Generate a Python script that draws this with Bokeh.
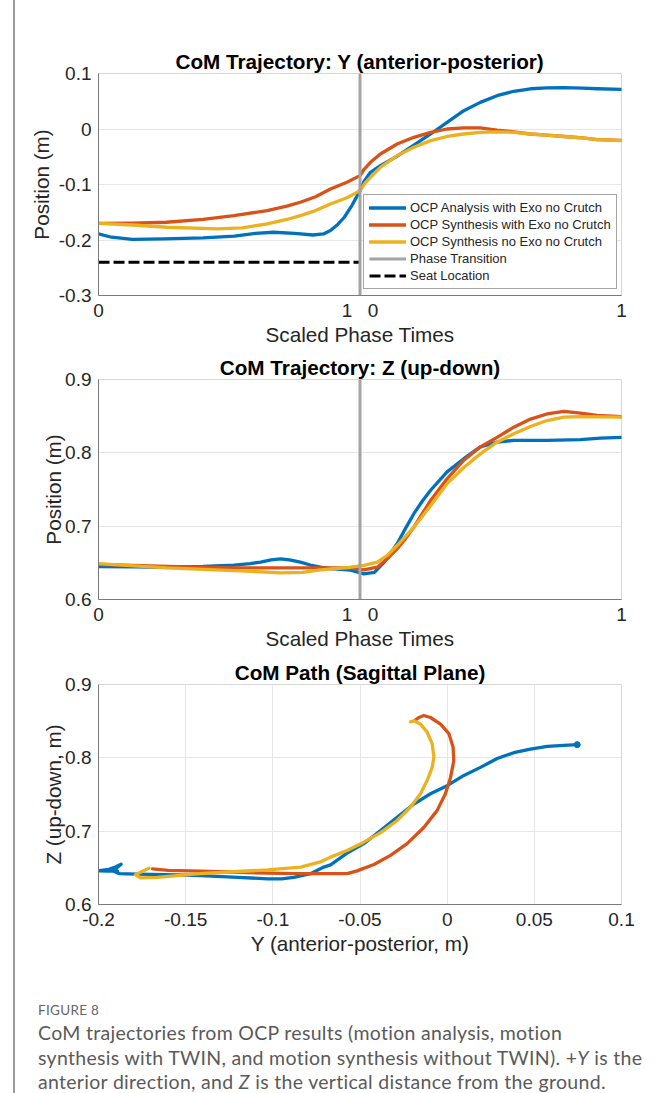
from bokeh.plotting import figure
from bokeh.models import FixedTicker, Legend, LegendItem, Div, Spacer, Range1d
from bokeh.layouts import column, row
from bokeh.embed import file_html
from bokeh.resources import INLINE

# ---------------- data ----------------
# combined scaled phase time: phase 1 -> [0,1], phase 2 -> [1,2]
PHASE_T = 1.0
SEAT_Y = -0.24
SEAT_T = [0.0, 1.0]

T_Y_BLUE = [0, 0.05, 0.13, 0.25, 0.4, 0.52, 0.6, 0.67, 0.75, 0.82, 0.86, 0.887, 0.915, 0.94, 0.97, 1.0,
            1.015, 1.04, 1.078, 1.142, 1.206, 1.27, 1.333, 1.397, 1.46, 1.524, 1.588, 1.652, 1.715, 1.78,
            1.85, 1.907, 2.0]
Y_BLUE = [-0.189, -0.195, -0.199, -0.198, -0.196, -0.193, -0.188, -0.186, -0.188, -0.191, -0.189, -0.183,
          -0.172, -0.159, -0.137, -0.111, -0.095, -0.078, -0.066, -0.049, -0.029, -0.009, 0.012, 0.033,
          0.048, 0.060, 0.068, 0.0725, 0.074, 0.0745, 0.0735, 0.0725, 0.0715]

T_Y_RED = [0, 0.13, 0.26, 0.4, 0.518, 0.645, 0.72, 0.772, 0.83, 0.887, 0.95, 1.0, 1.015, 1.04, 1.078,
           1.142, 1.206, 1.27, 1.333, 1.397, 1.46, 1.524, 1.588, 1.652, 1.715, 1.78, 1.85, 1.907, 2.0]
Y_RED = [-0.170, -0.1695, -0.168, -0.163, -0.156, -0.147, -0.139, -0.132, -0.122, -0.108, -0.096, -0.084,
         -0.073, -0.060, -0.045, -0.027, -0.015, -0.006, 0.0, 0.002, 0.002, -0.002, -0.005, -0.009, -0.011,
         -0.0135, -0.016, -0.019, -0.0205]

T_Y_YEL = [0, 0.13, 0.262, 0.454, 0.55, 0.645, 0.72, 0.772, 0.83, 0.887, 0.95, 1.0, 1.02, 1.04, 1.078,
           1.142, 1.206, 1.27, 1.333, 1.397, 1.46, 1.524, 1.588, 1.652, 1.715, 1.78, 1.85, 1.907, 2.0]
Y_YEL = [-0.170, -0.173, -0.177, -0.180, -0.178, -0.171, -0.163, -0.156, -0.147, -0.135, -0.124, -0.111,
         -0.097, -0.087, -0.069, -0.048, -0.033, -0.021, -0.0135, -0.009, -0.006, -0.005, -0.006, -0.009,
         -0.011, -0.0135, -0.016, -0.019, -0.021]

T_Z_BLUE = [0, 0.13, 0.262, 0.4, 0.518, 0.58, 0.62, 0.66, 0.696, 0.73, 0.772, 0.81, 0.849, 0.887, 0.964,
            1.015, 1.055, 1.093, 1.142, 1.174, 1.206, 1.238, 1.27, 1.333, 1.397, 1.46, 1.524, 1.588, 1.715,
            1.843, 1.92, 2.0]
Z_BLUE = [0.645, 0.6445, 0.644, 0.645, 0.647, 0.649, 0.651, 0.654, 0.6555, 0.654, 0.651, 0.647, 0.644,
          0.642, 0.640, 0.635, 0.637, 0.651, 0.676, 0.697, 0.717, 0.734, 0.749, 0.774, 0.792, 0.808, 0.8145,
          0.817, 0.817, 0.818, 0.820, 0.821]

T_Z_RED = [0, 0.262, 0.518, 0.849, 0.964, 1.015, 1.066, 1.104, 1.142, 1.174, 1.206, 1.238, 1.27, 1.333,
           1.397, 1.46, 1.524, 1.588, 1.652, 1.715, 1.78, 1.843, 1.907, 2.0]
Z_RED = [0.648, 0.645, 0.643, 0.643, 0.643, 0.6405, 0.644, 0.6555, 0.669, 0.683, 0.6986, 0.717, 0.735,
         0.7646, 0.790, 0.808, 0.821, 0.835, 0.846, 0.853, 0.8564, 0.854, 0.851, 0.8495]

T_Z_YEL = [0, 0.262, 0.518, 0.696, 0.78, 0.849, 0.964, 1.015, 1.066, 1.104, 1.142, 1.206, 1.27, 1.333,
           1.397, 1.46, 1.524, 1.588, 1.652, 1.715, 1.78, 1.843, 1.907, 2.0]
Z_YEL = [0.649, 0.643, 0.6395, 0.6364, 0.637, 0.6405, 0.644, 0.6464, 0.651, 0.660, 0.6736, 0.6986, 0.728,
         0.758, 0.780, 0.7986, 0.8145, 0.826, 0.836, 0.844, 0.8486, 0.8495, 0.849, 0.8486]

# sagittal-plane path (Y, Z)
PATH_Y_BLUE = [-0.189, -0.195, -0.1995, -0.1985, -0.194, -0.190, -0.187, -0.1895, -0.191, -0.188, -0.178,
               -0.170, -0.155, -0.1415, -0.12, -0.103, -0.095, -0.088, -0.0784, -0.0708, -0.0669, -0.0574,
               -0.0478, -0.0382, -0.0287, -0.0191, -0.0096, 0.0, 0.0096, 0.0191, 0.0287, 0.0382, 0.0478,
               0.0574, 0.0669, 0.0746]
PATH_Z_BLUE = [0.6455, 0.6455, 0.646, 0.6465, 0.648, 0.6515, 0.655, 0.650, 0.645, 0.642, 0.6415, 0.641,
               0.6405, 0.6395, 0.637, 0.635, 0.635, 0.637, 0.642, 0.651, 0.654, 0.670, 0.683, 0.701, 0.719,
               0.737, 0.751, 0.762, 0.776, 0.787, 0.799, 0.807, 0.812, 0.8155, 0.817, 0.818]

PATH_Y_RED = [-0.169, -0.160, -0.1415, -0.120, -0.103, -0.085, -0.067, -0.0574, -0.0517, -0.042, -0.0325,
              -0.023, -0.0134, -0.0058, -0.001, 0.0019, 0.0038, 0.0034, 0.001, -0.0038, -0.0096, -0.0134,
              -0.0162, -0.0185]
PATH_Z_RED = [0.6486, 0.6465, 0.6455, 0.644, 0.6427, 0.642, 0.642, 0.642, 0.6459, 0.6545, 0.667, 0.683,
              0.705, 0.728, 0.751, 0.773, 0.796, 0.8145, 0.833, 0.846, 0.855, 0.8577, 0.855, 0.851]

PATH_Y_YEL = [-0.171, -0.175, -0.1788, -0.1759, -0.1663, -0.155, -0.1415, -0.12, -0.103, -0.0841, -0.0727,
              -0.0669, -0.0574, -0.0478, -0.0382, -0.0287, -0.021, -0.0153, -0.0115, -0.0086, -0.0076,
              -0.0086, -0.0115, -0.0153, -0.019, -0.021]
PATH_Z_YEL = [0.6496, 0.645, 0.6405, 0.6364, 0.637, 0.6395, 0.642, 0.645, 0.6473, 0.651, 0.658, 0.6646,
              0.6736, 0.685, 0.698, 0.7145, 0.733, 0.751, 0.769, 0.787, 0.801, 0.819, 0.835, 0.846, 0.8505,
              0.849]

SERIES_NAMES = ["OCP Analysis with Exo no Crutch", "OCP Synthesis with Exo no Crutch",
                "OCP Synthesis no Exo no Crutch"]
PHASE_NAME = "Phase Transition"
SEAT_NAME = "Seat Location"

PHASE_X_TICKS = [0, 0.95, 1.05, 2]
PHASE_X_LABELS = ["0", "1", "0", "1"]
Y1_TICKS = [-0.3, -0.2, -0.1, 0, 0.1]
Y1_LABELS = ["-0.3", "-0.2", "-0.1", "0", "0.1"]
Z_TICKS = [0.6, 0.7, 0.8, 0.9]
Z_LABELS = ["0.6", "0.7", "0.8", "0.9"]
P3_X_TICKS = [-0.2, -0.15, -0.1, -0.05, 0, 0.05, 0.1]
P3_X_LABELS = ["-0.2", "-0.15", "-0.1", "-0.05", "0", "0.05", "0.1"]

TITLES = ["CoM Trajectory: Y (anterior-posterior)", "CoM Trajectory: Z (up-down)",
          "CoM Path (Sagittal Plane)"]

# ---------------- style ----------------
FONT = "Liberation Sans"
COLORS = ["#0072BD", "#D95319", "#EDB120"]
PHASE_COLOR = "#a3a3a3"
TXT = "#262626"
AX = "#7a7a7a"
GRID = "#e6e6e6"
LW = 3.3
W = 640
H_TOTAL = 1093


def make_fig(height, top, bottom, title, xr, yr):
    p = figure(width=W, height=height, output_backend="svg", toolbar_location=None,
               x_range=Range1d(*xr), y_range=Range1d(*yr),
               min_border_left=83, min_border_right=34, min_border_top=top, min_border_bottom=bottom)
    p.title.text = title
    p.title.text_font = FONT
    p.title.text_font_size = "20.7px"
    p.title.text_font_style = "bold"
    p.title.text_color = "black"
    p.title.align = "center"
    p.title.standoff = 2
    p.outline_line_color = "#d6d6d6"
    p.outline_line_width = 1
    p.background_fill_color = "white"
    p.border_fill_color = "white"
    for ax in (p.xaxis[0], p.yaxis[0]):
        ax.axis_line_color = AX
        ax.axis_line_width = 1
        ax.major_tick_line_color = AX
        ax.major_tick_in = 0
        ax.major_tick_out = 0
        ax.minor_tick_line_color = None
        ax.major_label_text_font = FONT
        ax.major_label_text_font_size = "19px"
        ax.major_label_text_color = TXT
        ax.axis_label_text_font = FONT
        ax.axis_label_text_font_size = "20.7px"
        ax.axis_label_text_font_style = "normal"
        ax.axis_label_text_color = TXT
    p.xaxis.major_label_standoff = 8
    p.yaxis.major_label_standoff = 7
    p.xaxis.axis_label_standoff = 3
    p.ygrid.grid_line_color = GRID
    p.ygrid.grid_line_width = 1
    p.xgrid.grid_line_color = None
    return p


def set_ticks(axis, ticks, labels):
    axis.ticker = FixedTicker(ticks=ticks)
    axis.major_label_overrides = {t: l for t, l in zip(ticks, labels)}


# ---------- panel 1 ----------
p1 = make_fig(350, 73, 55, TITLES[0], (0, 2), (Y1_TICKS[0], Y1_TICKS[-1]))
set_ticks(p1.xaxis[0], PHASE_X_TICKS, PHASE_X_LABELS)
set_ticks(p1.yaxis[0], Y1_TICKS, Y1_LABELS)
p1.xaxis.axis_label = "Scaled Phase Times"
p1.yaxis.axis_label = "Position (m)"
p1.yaxis.axis_label_standoff = 3

r_b = p1.line(T_Y_BLUE, Y_BLUE, line_color=COLORS[0], line_width=LW, line_join="round", line_cap="round")
r_r = p1.line(T_Y_RED, Y_RED, line_color=COLORS[1], line_width=LW, line_join="round", line_cap="round")
r_y = p1.line(T_Y_YEL, Y_YEL, line_color=COLORS[2], line_width=LW, line_join="round", line_cap="round")
r_s = p1.line(SEAT_T, [SEAT_Y, SEAT_Y], line_color="black", line_width=3, line_dash="11 4")
r_p = p1.segment(x0=[PHASE_T], y0=[Y1_TICKS[0]], x1=[PHASE_T], y1=[Y1_TICKS[-1]],
                 line_color=PHASE_COLOR, line_width=3)

legend = Legend(items=[LegendItem(label=SERIES_NAMES[0], renderers=[r_b]),
                       LegendItem(label=SERIES_NAMES[1], renderers=[r_r]),
                       LegendItem(label=SERIES_NAMES[2], renderers=[r_y]),
                       LegendItem(label=PHASE_NAME, renderers=[r_p]),
                       LegendItem(label=SEAT_NAME, renderers=[r_s])],
                location=(265, 6), margin=0, padding=5, spacing=2,
                glyph_width=37, glyph_height=13, label_height=13, label_standoff=4,
                label_text_font=FONT, label_text_font_size="13px", label_text_color=TXT,
                border_line_color="#4a4a4a", border_line_width=1, background_fill_alpha=1)
p1.add_layout(legend)

# ---------- panel 2 ----------
p2 = make_fig(305, 29, 56, TITLES[1], (0, 2), (Z_TICKS[0], Z_TICKS[-1]))
set_ticks(p2.xaxis[0], PHASE_X_TICKS, PHASE_X_LABELS)
set_ticks(p2.yaxis[0], Z_TICKS, Z_LABELS)
p2.xaxis.axis_label = "Scaled Phase Times"
p2.yaxis.axis_label = "Position (m)"
p2.yaxis.axis_label_standoff = -3
p2.line(T_Z_BLUE, Z_BLUE, line_color=COLORS[0], line_width=LW, line_join="round", line_cap="round")
p2.line(T_Z_RED, Z_RED, line_color=COLORS[1], line_width=LW, line_join="round", line_cap="round")
p2.line(T_Z_YEL, Z_YEL, line_color=COLORS[2], line_width=LW, line_join="round", line_cap="round")
p2.segment(x0=[PHASE_T], y0=[Z_TICKS[0]], x1=[PHASE_T], y1=[Z_TICKS[-1]],
           line_color=PHASE_COLOR, line_width=3)

# ---------- panel 3 ----------
p3 = make_fig(305, 29, 56, TITLES[2], (P3_X_TICKS[0], P3_X_TICKS[-1]), (Z_TICKS[0], Z_TICKS[-1]))
set_ticks(p3.xaxis[0], P3_X_TICKS, P3_X_LABELS)
set_ticks(p3.yaxis[0], Z_TICKS, Z_LABELS)
p3.xgrid.grid_line_color = GRID
p3.xaxis.axis_label = "Y (anterior-posterior, m)"
p3.yaxis.axis_label = "Z (up-down, m)"
p3.yaxis.axis_label_standoff = -3
p3.line(PATH_Y_BLUE, PATH_Z_BLUE, line_color=COLORS[0], line_width=LW, line_join="round", line_cap="round")
p3.scatter(PATH_Y_BLUE[-1:], PATH_Z_BLUE[-1:], size=6, color=COLORS[0])
p3.line(PATH_Y_RED, PATH_Z_RED, line_color=COLORS[1], line_width=LW, line_join="round", line_cap="round")
p3.line(PATH_Y_YEL, PATH_Z_YEL, line_color=COLORS[2], line_width=LW, line_join="round", line_cap="round")

# ---------- caption ----------
CAPTION_HEAD = "FIGURE 8"
CAPTION_LINES = ["CoM trajectories from OCP results (motion analysis, motion",
                 "synthesis with TWIN, and motion synthesis without TWIN). +<i>Y</i> is the",
                 "anterior direction, and <i>Z</i> is the vertical distance from the ground."]
cap_html = (
    '<div style="padding-left:23px;font-family:Lato;color:#5a5a5a;white-space:nowrap;">'
    '<div style="margin-top:41px;font-size:13.5px;line-height:18px;color:#666;letter-spacing:0.3px;">'
    + CAPTION_HEAD + '</div>'
    '<div style="margin-top:2px;font-size:19.5px;line-height:24.5px;letter-spacing:0.3px;">'
    + "<br>".join(CAPTION_LINES) + '</div>'
    '</div>'
)
caption = Div(text=cap_html, width=W, height=133, margin=0)

line_div = Div(text='<div style="width:2px;height:%dpx;background:#9a9a9a;"></div>' % H_TOTAL,
               width=2, height=H_TOTAL, margin=0)

layout = row(Spacer(width=13, height=H_TOTAL, margin=0), line_div,
             column(p1, p2, p3, caption, spacing=0, margin=0), spacing=0, margin=0)

open("out.html", "w").write(file_html(layout, INLINE))
